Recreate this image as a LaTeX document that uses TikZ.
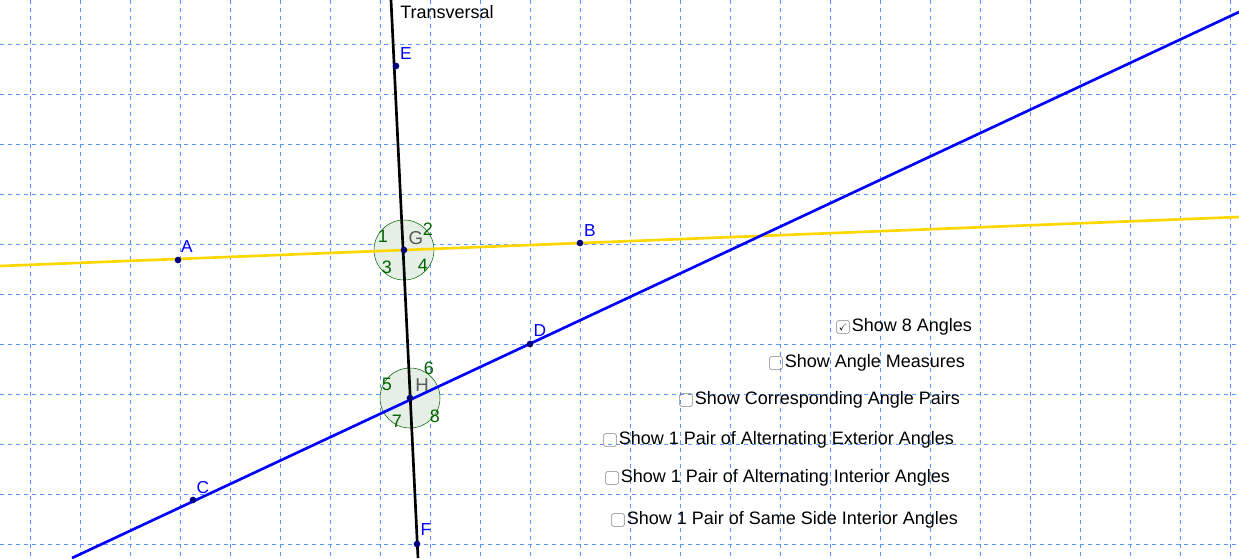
\documentclass[tikz,border=0pt]{standalone}
\usepackage{fontspec}
\setmainfont{Liberation Sans}
\usepackage{amssymb}
\usetikzlibrary{calc}

\definecolor{gridblue}{RGB}{90,150,255}
\definecolor{ptblue}{RGB}{0,0,255}
\definecolor{linegold}{RGB}{255,215,0}
\definecolor{anggreen}{RGB}{0,100,0}

\tikzset{
  pt/.style = {fill=ptblue!50!black, circle, inner sep=0pt, minimum size=5pt},
  ptlabel/.style = {text=ptblue, font=\fontsize{13}{15}\selectfont, inner sep=1pt},
  anglabel/.style = {text=anggreen, font=\fontsize{13.5}{15}\selectfont, inner sep=0pt},
  anglecirc/.style = {draw=anggreen, fill=anggreen!10, line width=0.4pt},
  checkbox/.style = {draw=gray, rounded corners=1pt, minimum size=9.5pt, inner sep=0pt},
  option/.style = {font=\fontsize{13.5}{15}\selectfont, anchor=west, inner sep=1.5pt}
}

\begin{document}
\begin{tikzpicture}[x=0.75pt, y=-0.75pt]
        \useasboundingbox (0,0) rectangle (1239,558);
        % grid
        \foreach \gx in {30,80,...,1230}
            \draw[gridblue, dashed, line width=0.6pt] (\gx,0) -- (\gx,558);
        \foreach \gy in {44,94,...,544}
            \draw[gridblue, dashed, line width=0.6pt] (0,\gy) -- (1239,\gy);

        % angle circles
        \coordinate (G) at (404,250);
        \coordinate (H) at (410,398);
        \draw[anglecirc] (G) circle (30);
        \draw[anglecirc] (H) circle (30);

        % lines
        \coordinate (T1) at (391,0);
        \coordinate (T2) at (418,558);
        \coordinate (Y1) at (0,266);
        \coordinate (Y2) at (1239,217);
        \coordinate (L1) at (72,558);
        \coordinate (L2) at (1239,12);
        \draw[linegold, line width=2pt] (Y1) -- (Y2);
        \draw[ptblue, line width=2pt] (L1) -- (L2);
        \draw[black, line width=2pt] (T1) -- (T2);
        \node[option, inner sep=0pt] at (400,12) {Transversal};

        % points
        \node[pt] (E) at (396,66) {};
        \node[pt] (Gp) at (G) {};
        \node[pt] (Hp) at (H) {};
        \node[pt] (F) at (417,544) {};
        \node[pt] (A) at (178,260) {};
        \node[pt] (B) at (580,243) {};
        \node[pt] (C) at (193,500) {};
        \node[pt] (D) at (530,344) {};
        \node[ptlabel] at (406,54) {E};
        \node[ptlabel] at (426,530) {F};
        \node[ptlabel] at (187,247) {A};
        \node[ptlabel] at (590,231) {B};
        \node[ptlabel] at (203,488) {C};
        \node[ptlabel] at (540,331) {D};
        \node[ptlabel, text=gray!70!black, font=\fontsize{14}{16}\selectfont] at (416,238) {G};
        \node[ptlabel, text=gray!70!black, font=\fontsize{14}{16}\selectfont] at (422,385) {H};

        % angle numbers
        \node[anglabel] at (383,236) {1};
        \node[anglabel] at (428,229) {2};
        \node[anglabel] at (387,267) {3};
        \node[anglabel] at (423,265) {4};
        \node[anglabel] at (387,384) {5};
        \node[anglabel] at (429,368) {6};
        \node[anglabel] at (397,421) {7};
        \node[anglabel] at (435,416) {8};

        % options
        \node[checkbox] (k1) at (843,327) {\scriptsize$\checkmark$};
        \node[checkbox] (k2) at (776,363) {};
        \node[checkbox] (k3) at (686,400) {};
        \node[checkbox] (k4) at (610,440) {};
        \node[checkbox] (k5) at (612,478) {};
        \node[checkbox] (k6) at (618,520) {};
        \node[option] at (k1.east) {Show 8 Angles};
        \node[option] at (k2.east) {Show Angle Measures};
        \node[option] at (k3.east) {Show Corresponding Angle Pairs};
        \node[option] at (k4.east) {Show 1 Pair of Alternating Exterior Angles};
        \node[option] at (k5.east) {Show 1 Pair of Alternating Interior Angles};
        \node[option] at (k6.east) {Show 1 Pair of Same Side Interior Angles};
\end{tikzpicture}
\end{document}
